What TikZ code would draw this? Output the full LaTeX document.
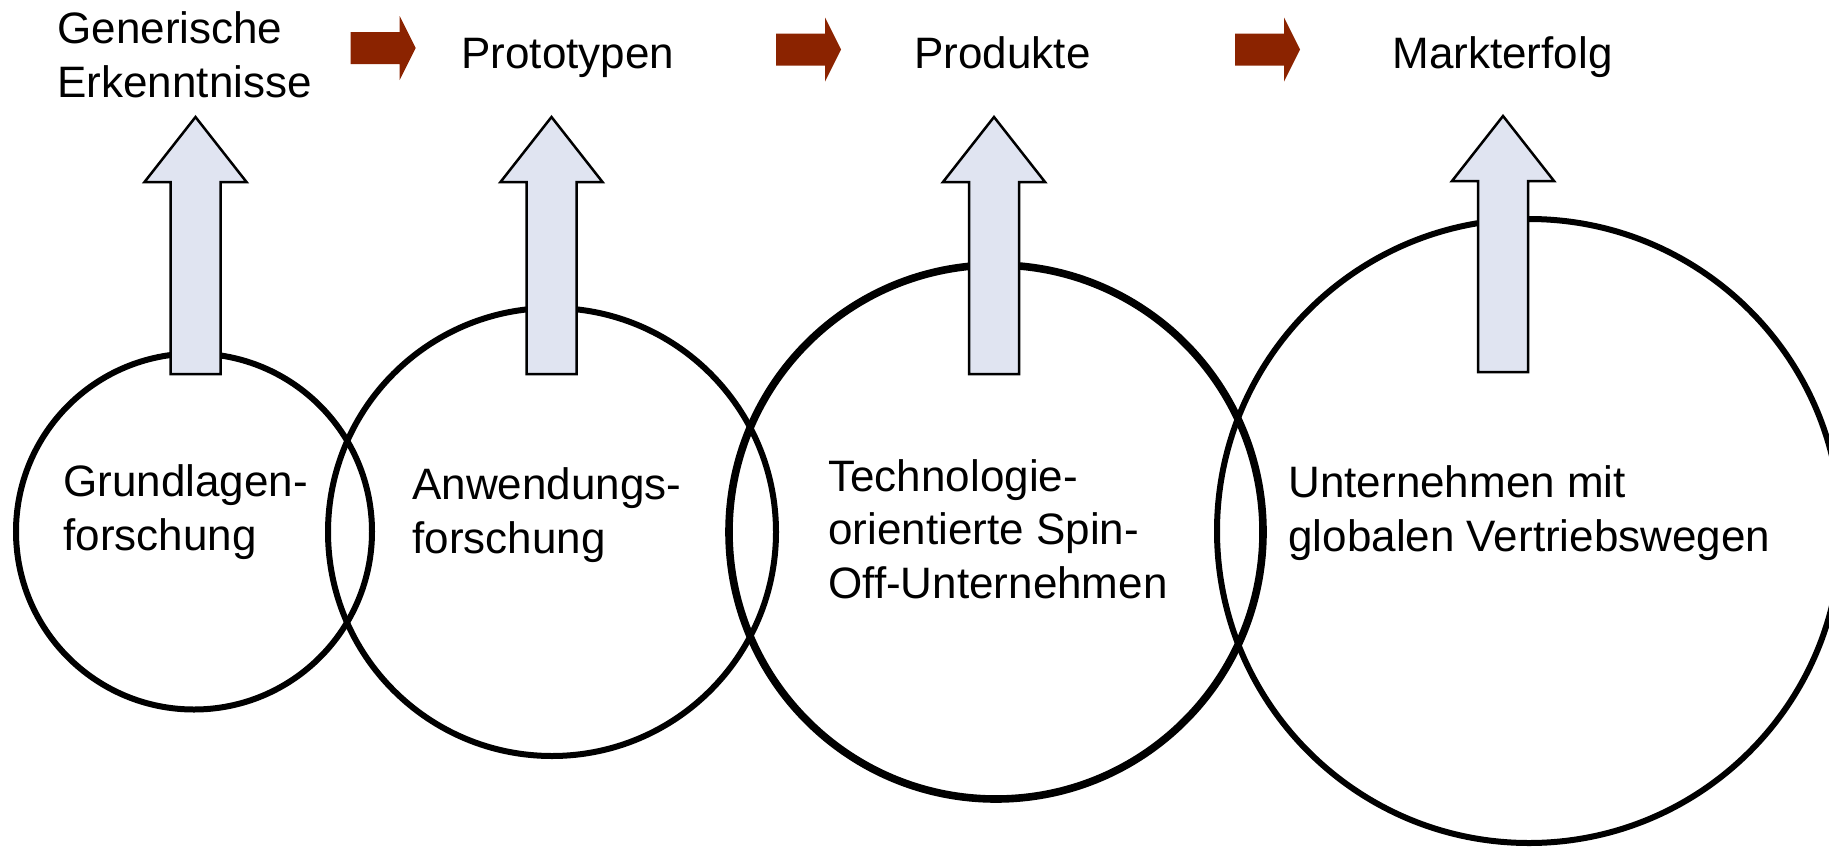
\documentclass[tikz,border=0pt]{standalone}
\usepackage{fontspec}
\setmainfont{Liberation Sans}
\definecolor{arrowfill}{RGB}{224,228,241}
\definecolor{flowred}{RGB}{139,35,0}
\newcommand{\blockup}[3]{\draw[uparrow] (#1,#2) -- (#1+51,#2+65) -- (#1+25,#2+65) -- (#1+25,#3) -- (#1-25,#3) -- (#1-25,#2+65) -- (#1-51,#2+65) -- cycle;}
\newcommand{\blockright}[3]{\fill[flowarrow] (#1,#2-16) -- (#1+49,#2-16) -- (#1+49,#2-32) -- (#1+65,#2) -- (#1+49,#2+32) -- (#1+49,#2+16) -- (#1,#2+16) -- cycle;}
\begin{document}
\begin{tikzpicture}[x=0.5pt,y=-0.5pt,
  lbl/.style={font=\fontsize{22}{26.75}\selectfont, inner sep=0pt, anchor=base west, align=left},
  ring/.style={circle, draw=black, line width=3pt, inner sep=0pt},
  uparrow/.style={draw=black, fill=arrowfill, line width=1.25pt, line join=miter},
  flowarrow/.style={fill=flowred, draw=none}]
\useasboundingbox (0,0) rectangle (1829,846);
% circles
\node[ring, minimum size=178pt] (c1) at (194,531.5) {};
\node[ring, minimum size=224pt] (c2) at (552,532) {};
\node[ring, line width=3.8pt, minimum size=267pt] (c3) at (996,532) {};
\node[ring, minimum size=312pt] (c4) at (1529,531) {};
% upward block arrows
\blockup{195.5}{117}{374}
\blockup{551.5}{117}{374}
\blockup{994}{117}{374}
\blockup{1503}{116}{372}
% flow arrows
\blockright{350.7}{48}{}
\blockright{776}{49.5}{}
\blockright{1235}{49.5}{}
% labels (anchored at the baseline of the last line)
\node[lbl] (gen) at (57,97) {Generische\\Erkenntnisse};
\node[lbl] (proto) at (461,68) {Prototypen};
\node[lbl] (prod) at (914,68) {Produkte};
\node[lbl] (markt) at (1392,68) {Markterfolg};
\node[lbl] (t1) at (63,550) {Grundlagen-\\forschung};
\node[lbl] (t2) at (412,553) {Anwendungs-\\forschung};
\node[lbl] (t3) at (828,598) {Technologie-\\orientierte Spin-\\Off-Unternehmen};
\node[lbl] (t4) at (1288,551) {Unternehmen mit\\globalen Vertriebswegen};
\end{tikzpicture}
\end{document}
